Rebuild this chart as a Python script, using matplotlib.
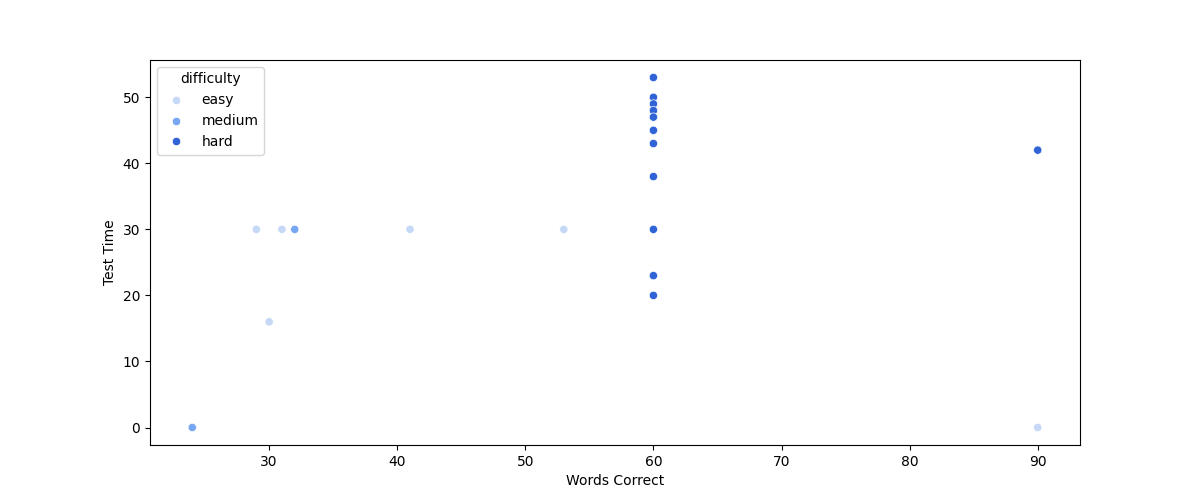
import matplotlib
matplotlib.use("Agg")
import matplotlib.pyplot as plt
import pandas as pd
import seaborn as sns

easy_words = [29, 31, 30, 41, 53, 90]
easy_time = [30, 30, 16, 30, 30, 0]
medium_words = [32, 24]
medium_time = [30, 0]
hard_words = [60, 60, 60, 60, 60, 60, 60, 60, 60, 60, 60, 90]
hard_time = [53, 50, 49, 48, 47, 45, 43, 38, 30, 23, 20, 42]

df = pd.DataFrame({
    "Words Correct": easy_words + medium_words + hard_words,
    "Test Time": easy_time + medium_time + hard_time,
    "difficulty": ["easy"] * len(easy_words) + ["medium"] * len(medium_words) + ["hard"] * len(hard_words),
})

palette = {"easy": "#c5d8f5", "medium": "#78a7f2", "hard": "#2f63d6"}

fig, ax = plt.subplots(figsize=(12, 5), dpi=100)
sns.scatterplot(data=df, x="Words Correct", y="Test Time", hue="difficulty",
                hue_order=["easy", "medium", "hard"], palette=palette, ax=ax)
ax.legend(title="difficulty", loc="upper left")
fig.savefig("out.png")
